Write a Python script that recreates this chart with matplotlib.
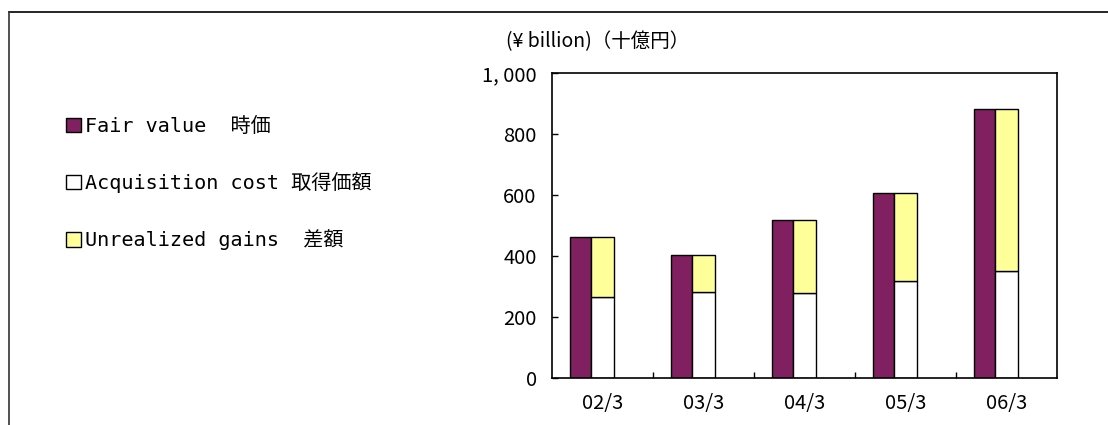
import matplotlib
matplotlib.use('Agg')
import matplotlib.pyplot as plt
from matplotlib.lines import Line2D
import numpy as np

# data (yen billion)
periods = ['02/3', '03/3', '04/3', '05/3', '06/3']
fair_value = [462, 403, 517, 606, 883]
acquisition_cost = [264, 283, 280, 317, 352]
unrealized_gains = [198, 120, 237, 289, 531]
y_ticks = [0, 200, 400, 600, 800, 1000]
y_labels = ['0', '200', '400', '600', '800', '1, 000']

labels = ['Fair value  時価', 'Acquisition cost 取得価額', 'Unrealized gains  差額']
unit_text = '(¥ billion)（十億円）'

PURPLE = '#802060'
YELLOW = '#FFFF99'
jp_font = ['Noto Sans CJK JP', 'DejaVu Sans']
mono_font = ['DejaVu Sans Mono', 'Noto Sans CJK JP']

W, H = 1108, 425
fig = plt.figure(figsize=(W / 100, H / 100), dpi=100)
ax = fig.add_axes([552 / W, 1 - 378 / H, (1057 - 552) / W, (378 - 73) / H])

x = np.arange(len(periods))
b_fair = ax.bar(x - 0.218, fair_value, width=0.21, color=PURPLE,
                edgecolor='black', linewidth=1.0)
b_acq = ax.bar(x, acquisition_cost, width=0.228, color='white',
               edgecolor='black', linewidth=1.0)
b_gain = ax.bar(x, unrealized_gains, width=0.228, bottom=acquisition_cost,
                color=YELLOW, edgecolor='black', linewidth=1.0)

ax.set_xlim(-0.5, len(periods) - 0.5)
ax.set_ylim(0, 1000)
ax.set_yticks(y_ticks)
ax.set_yticklabels(y_labels, family=jp_font, fontsize=14.5)
ax.set_xticks(x)
ax.set_xticklabels(periods, family=jp_font, fontsize=14.5)
ax.set_xticks(np.arange(0.5, len(periods) - 1, 1.0), minor=True)
ax.tick_params(axis='x', which='major', length=0, pad=11)
ax.tick_params(axis='x', which='minor', direction='in', length=4, width=1)
ax.tick_params(axis='y', direction='in', length=4, width=1, pad=11)
for s in ax.spines.values():
    s.set_linewidth(1.2)

fig.text(506 / W, 1 - 42 / H, unit_text, family=jp_font, fontsize=14,
         ha='left', va='center')

leg = fig.legend([b_fair, b_acq, b_gain], labels, loc='upper left',
                 bbox_to_anchor=(56 / W, 1 - 107 / H), frameon=False,
                 prop={'family': mono_font, 'size': 14.5},
                 handlelength=0.72, handleheight=0.72, handletextpad=0.2,
                 labelspacing=1.8, borderpad=0)

# outer frame lines (top and left)
fig.add_artist(Line2D([9 / W, 1], [1 - 12 / H, 1 - 12 / H], color='black', lw=1.2))
fig.add_artist(Line2D([9 / W, 9 / W], [0, 1 - 12 / H], color='#333333', lw=1.2))

fig.savefig('out.png', dpi=100)
